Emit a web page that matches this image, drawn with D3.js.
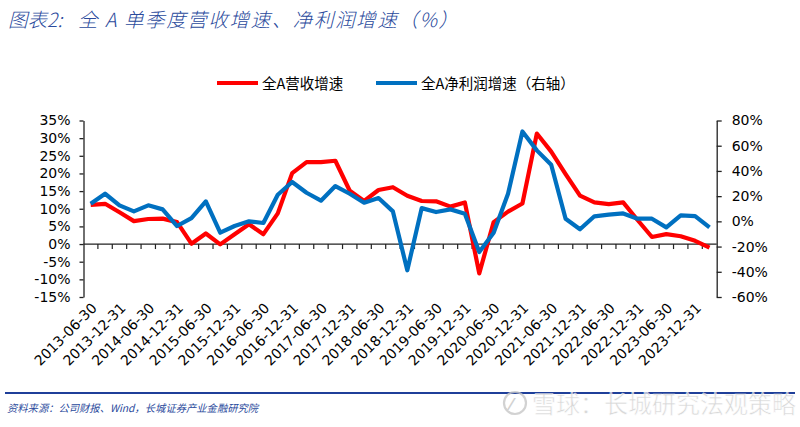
<!DOCTYPE html>
<html><head><meta charset="utf-8">
<script src="https://cdn.jsdelivr.net/npm/d3@7"></script>
<style>
html,body{margin:0;padding:0;background:#fff;}
svg{display:block;}
</style></head>
<body>
<svg id="c" width="800" height="427"></svg>
<script>
const categories = ["2013-06-30","2013-09-30","2013-12-31","2014-03-31","2014-06-30","2014-09-30","2014-12-31","2015-03-31","2015-06-30","2015-09-30","2015-12-31","2016-03-31","2016-06-30","2016-09-30","2016-12-31","2017-03-31","2017-06-30","2017-09-30","2017-12-31","2018-03-31","2018-06-30","2018-09-30","2018-12-31","2019-03-31","2019-06-30","2019-09-30","2019-12-31","2020-03-31","2020-06-30","2020-09-30","2020-12-31","2021-03-31","2021-06-30","2021-09-30","2021-12-31","2022-03-31","2022-06-30","2022-09-30","2022-12-31","2023-03-31","2023-06-30","2023-09-30","2023-12-31","2024-03-31"];
const revenueGrowth = [11.1,11.4,9.0,6.5,7.1,7.2,6.2,0.1,3.0,-0.1,2.8,5.6,2.8,8.7,20.1,23.2,23.2,23.6,15.1,12.2,15.3,16.1,13.7,12.2,12.1,10.6,11.8,-8.3,6.2,9.2,11.5,31.3,26.2,19.8,13.7,11.8,11.3,11.8,6.8,2.0,2.8,2.2,0.9,-1.0];
const profitGrowth = [14.0,21.9,12.7,7.9,12.7,9.5,-3.7,2.6,15.8,-9.0,-3.7,0.0,-1.3,21.1,31.2,22.7,16.4,28.0,21.9,14.8,18.5,7.9,-38.8,10.5,7.4,9.5,6.1,-24.3,-9.0,21.9,71.3,56.3,44.9,2.1,-6.3,4.0,5.3,6.3,2.1,2.1,-4.8,4.8,4.2,-4.8];
const leftTicks = [-15,-10,-5,0,5,10,15,20,25,30,35];
const rightTicks = [-60,-40,-20,0,20,40,60,80];
const seriesNames = ["全A营收增速","全A净利润增速（右轴）"];
const titleLead = "图表2:";
const titleText = "全 A 单季度营收增速、净利润增速（%）";
const sourceText = "资料来源：公司财报、Wind，长城证券产业金融研究院";
const watermarkText = "雪球：长城研究法观策略";

const svg = d3.select("#c");
const L = 83.5, R = 716.7, T = 120.5, B = 297;
const x = d3.scaleBand().domain(categories).range([L, R]).padding(0);
const yL = d3.scaleLinear().domain([-15, 35]).range([B, T]);
const yR = d3.scaleLinear().domain([-60, 80]).range([B, T]);
const font = "'DejaVu Sans', sans-serif";
const cjk = "'Noto Sans CJK SC', sans-serif";

// Title
svg.append("text").attr("x", 8).attr("y", 27)
  .attr("font-family", cjk).attr("font-size", 19.5).attr("font-style", "italic")
  .attr("font-weight", 300).attr("fill", "#2a4a9c").text(titleLead);
svg.append("text").attr("x", 78).attr("y", 27)
  .attr("font-family", cjk).attr("font-size", 19.5).attr("font-style", "italic")
  .attr("font-weight", 300).attr("letter-spacing", 1.6).attr("fill", "#2a4a9c").text(titleText);

// Left axis
const gL = svg.append("g").attr("transform", `translate(${L},0)`)
  .call(d3.axisLeft(yL).tickValues(leftTicks).tickSize(4).tickSizeOuter(0).tickPadding(9).tickFormat(d => d + "%"));
gL.selectAll("text").attr("font-family", font).attr("font-size", 14).attr("fill", "#000");
gL.selectAll("line,path").attr("stroke", "#222").attr("stroke-width", 1.3);

// Right axis
const gR = svg.append("g").attr("transform", `translate(${R},0)`)
  .call(d3.axisRight(yR).tickValues(rightTicks).tickSize(5).tickSizeOuter(0).tickPadding(10).tickFormat(d => d + "%"));
gR.selectAll("text").attr("font-family", font).attr("font-size", 14).attr("fill", "#000");
gR.selectAll("line,path").attr("stroke", "#222").attr("stroke-width", 1.3);

// X axis line at zero
const y0 = yL(0);
svg.append("line").attr("x1", L).attr("x2", R).attr("y1", y0).attr("y2", y0)
  .attr("stroke", "#222").attr("stroke-width", 1.3);
svg.append("g").selectAll("line").data(categories.slice(1)).join("line")
  .attr("x1", d => x(d)).attr("x2", d => x(d))
  .attr("y1", y0).attr("y2", y0 + 5).attr("stroke", "#222").attr("stroke-width", 1.2);
svg.append("g").selectAll("text").data(categories.filter((d, i) => i % 2 === 0)).join("text")
  .attr("transform", d => `translate(${x(d) + x.bandwidth() / 2 + 7},${B + 12}) rotate(-45)`)
  .attr("text-anchor", "end").attr("font-family", font).attr("font-size", 14).attr("fill", "#000")
  .text(d => d);

// Lines
const lineL = d3.line().x((d, i) => x(categories[i]) + x.bandwidth() / 2).y(d => yL(d));
const lineR = d3.line().x((d, i) => x(categories[i]) + x.bandwidth() / 2).y(d => yR(d));
svg.append("path").datum(revenueGrowth).attr("d", lineL).attr("fill", "none")
  .attr("stroke", "#ff0000").attr("stroke-width", 4.2).attr("stroke-linejoin", "round");
svg.append("path").datum(profitGrowth).attr("d", lineR).attr("fill", "none")
  .attr("stroke", "#0070c0").attr("stroke-width", 4.2).attr("stroke-linejoin", "round");

// Legend
const legend = [{name: seriesNames[0], color: "#ff0000", x: 217}, {name: seriesNames[1], color: "#0070c0", x: 376}];
const lg = svg.append("g").selectAll("g").data(legend).join("g");
lg.append("line").attr("x1", d => d.x).attr("x2", d => d.x + 41).attr("y1", 83).attr("y2", 83)
  .attr("stroke", d => d.color).attr("stroke-width", 4.2);
lg.append("text").attr("x", d => d.x + 45).attr("y", 88.5)
  .attr("font-family", cjk).attr("font-size", 14.5).attr("fill", "#000").text(d => d.name);

// Footer
svg.append("line").attr("x1", 5).attr("x2", 795).attr("y1", 393).attr("y2", 393)
  .attr("stroke", "#1f3f99").attr("stroke-width", 1.8);
svg.append("text").attr("x", 7).attr("y", 412)
  .attr("font-family", cjk).attr("font-size", 10.3).attr("font-style", "italic")
  .attr("fill", "#2a4a9c").text(sourceText);

// Watermark
const wm = svg.append("g").attr("opacity", 0.8);
wm.append("circle").attr("cx", 515).attr("cy", 403).attr("r", 11)
  .attr("fill", "none").attr("stroke", "#c8c8c8").attr("stroke-width", 2.2);
wm.append("text").attr("x", 510).attr("y", 410).attr("font-family", font).attr("font-size", 16)
  .attr("font-weight", "bold").attr("fill", "#c8c8c8").text("⁄");
wm.append("text").attr("x", 532).attr("y", 413)
  .attr("font-family", cjk).attr("font-size", 24).attr("fill", "#cfcfcf")
  .attr("stroke", "#ffffff").attr("stroke-width", 0.6).text(watermarkText);
</script>
</body></html>
